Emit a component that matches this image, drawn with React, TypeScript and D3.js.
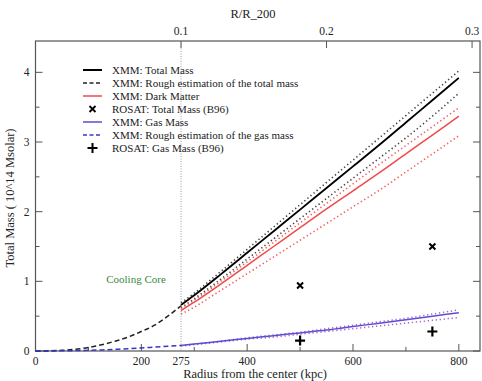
import { useEffect, useRef } from "react";
import * as d3 from "d3";

const width = 482;
const height = 381;
const margin = { top: 41, right: 2, bottom: 30, left: 35.5 };

// XMM profiles (kpc, 10^14 Msolar)
const radiusXmm = [275, 300, 350, 400, 450, 500, 550, 600, 650, 700, 750, 800];
const totalMass = [0.66, 0.8, 1.1, 1.41, 1.72, 2.03, 2.34, 2.65, 2.96, 3.28, 3.6, 3.92];
const totalHigh = [0.69, 0.83, 1.14, 1.46, 1.78, 2.1, 2.42, 2.74, 3.06, 3.38, 3.7, 4.02];
const totalLow = [0.62, 0.75, 1.03, 1.32, 1.61, 1.9, 2.19, 2.48, 2.77, 3.06, 3.37, 3.7];
const darkMatter = [0.58, 0.7, 0.96, 1.23, 1.5, 1.77, 2.04, 2.3, 2.56, 2.83, 3.1, 3.37];
const darkHigh = [0.61, 0.73, 1.0, 1.28, 1.56, 1.84, 2.12, 2.4, 2.68, 2.95, 3.22, 3.49];
const darkLow = [0.53, 0.63, 0.87, 1.11, 1.35, 1.59, 1.83, 2.07, 2.31, 2.57, 2.83, 3.09];
const gasMass = [0.08, 0.1, 0.14, 0.18, 0.22, 0.26, 0.3, 0.35, 0.4, 0.45, 0.5, 0.55];
const gasHigh = [0.08, 0.1, 0.14, 0.19, 0.23, 0.27, 0.32, 0.37, 0.42, 0.47, 0.53, 0.59];
const gasLow = [0.07, 0.09, 0.13, 0.17, 0.2, 0.24, 0.28, 0.32, 0.36, 0.4, 0.44, 0.48];

// rough estimation inside the cooling core
const radiusCore = [0, 25, 50, 75, 100, 125, 150, 175, 200, 225, 250, 275];
const roughTotal = [0, 0.002, 0.01, 0.025, 0.05, 0.09, 0.14, 0.2, 0.28, 0.37, 0.5, 0.65];
const roughGas = [0, 0.001, 0.003, 0.006, 0.01, 0.016, 0.024, 0.033, 0.044, 0.056, 0.068, 0.08];

// ROSAT (B96)
const rosatRadius = [500, 750];
const rosatTotal = [0.94, 1.5];
const rosatGas = [0.15, 0.28];

const xTickLabels = [0, 200, 275, 400, 600, 800];
const xMajor = [0, 200, 400, 600, 800];
const xMinor = [100, 300, 500, 700];
const yTickLabels = [0, 1, 2, 3, 4];
const yMinor = [0.5, 1.5, 2.5, 3.5];
const topTicks = [0.1, 0.2, 0.3];
const r200 = 2750;
const coolingRadius = 275;

const legendItems = [
  { label: "XMM: Total Mass", kind: "line", color: "#000", dash: null, w: 2 },
  { label: "XMM: Rough estimation of the total mass", kind: "line", color: "#222", dash: "4,2.5", w: 1.3 },
  { label: "XMM: Dark Matter", kind: "line", color: "#f04a4a", dash: null, w: 1.5 },
  { label: "ROSAT: Total Mass (B96)", kind: "x", color: "#000" },
  { label: "XMM: Gas Mass", kind: "line", color: "#5a4fd0", dash: null, w: 1.5 },
  { label: "XMM: Rough estimation of the gas mass", kind: "line", color: "#3a34c8", dash: "4,2.5", w: 1.3 },
  { label: "ROSAT: Gas Mass (B96)", kind: "plus", color: "#000" },
];

const font = "Liberation Serif, Times New Roman, DejaVu Serif, serif";

function App() {
  const node = useRef<HTMLDivElement>(null);

  useEffect(() => {
    const root = d3.select(node.current);
    root.selectAll("svg").remove();
    const svg = root
      .append("svg")
      .attr("width", width)
      .attr("height", height)
      .attr("font-family", font)
      .style("position", "absolute")
      .style("left", 0)
      .style("top", 0);

    const x = d3.scaleLinear().domain([0, 840]).range([margin.left, width - margin.right]);
    const y = d3.scaleLinear().domain([0, 4.45]).range([height - margin.bottom, margin.top]);
    const x0 = margin.left, x1 = width - margin.right;
    const y0 = height - margin.bottom, y1 = margin.top;
    const axisColor = "#555";

    const txt = (sel: any) => sel.attr("font-family", font).attr("fill", "#222");

    // frame
    svg.append("rect").attr("x", x0).attr("y", y1).attr("width", x1 - x0).attr("height", y0 - y1)
      .attr("fill", "none").attr("stroke", axisColor).attr("stroke-width", 1.2);

    // cooling core marker
    svg.append("line").attr("x1", x(coolingRadius)).attr("x2", x(coolingRadius)).attr("y1", y1).attr("y2", y0)
      .attr("stroke", "#888").attr("stroke-width", 0.8).attr("stroke-dasharray", "1,1.5");

    // bottom/top x ticks
    xMajor.forEach((v) => {
      svg.append("line").attr("x1", x(v)).attr("x2", x(v)).attr("y1", y0).attr("y2", y0 - 7).attr("stroke", axisColor);
    });
    xMinor.forEach((v) => {
      svg.append("line").attr("x1", x(v)).attr("x2", x(v)).attr("y1", y0).attr("y2", y0 - 4).attr("stroke", axisColor);
    });
    svg.selectAll(".xlab").data(xTickLabels).enter().append("text")
      .attr("x", (d) => x(d)).attr("y", y0 + 14).attr("text-anchor", "middle")
      .attr("font-size", 11.5).call(txt).text((d) => d);

    topTicks.forEach((v) => {
      const px = x(v * r200);
      svg.append("line").attr("x1", px).attr("x2", px).attr("y1", y1).attr("y2", y1 + 7).attr("stroke", axisColor);
      svg.append("text").attr("x", px).attr("y", y1 - 6).attr("text-anchor", "middle")
        .attr("font-size", 11.5).call(txt).text(v.toFixed(1));
    });

    // y ticks both sides
    yTickLabels.forEach((v) => {
      svg.append("line").attr("x1", x0).attr("x2", x0 + 7).attr("y1", y(v)).attr("y2", y(v)).attr("stroke", axisColor);
      svg.append("line").attr("x1", x1).attr("x2", x1 - 7).attr("y1", y(v)).attr("y2", y(v)).attr("stroke", axisColor);
      svg.append("text").attr("x", x0 - 6).attr("y", y(v) + 4).attr("text-anchor", "end")
        .attr("font-size", 11.5).call(txt).text(v);
    });
    yMinor.forEach((v) => {
      svg.append("line").attr("x1", x0).attr("x2", x0 + 4).attr("y1", y(v)).attr("y2", y(v)).attr("stroke", axisColor);
      svg.append("line").attr("x1", x1).attr("x2", x1 - 4).attr("y1", y(v)).attr("y2", y(v)).attr("stroke", axisColor);
    });

    // axis titles
    svg.append("text").attr("x", 255).attr("y", 378).attr("text-anchor", "middle")
      .attr("font-size", 12.5).call(txt).text("Radius from the center (kpc)");
    svg.append("text").attr("x", 253).attr("y", 18).attr("text-anchor", "middle")
      .attr("font-size", 12.5).call(txt).text("R/R_200");
    svg.append("text").attr("transform", `translate(14,${(y0 + y1) / 2 + 2}) rotate(-90)`)
      .attr("text-anchor", "middle").attr("font-size", 12.5).call(txt)
      .text("Total Mass ( 10^14 Msolar)");

    svg.append("text").attr("x", 136).attr("y", 283).attr("text-anchor", "middle")
      .attr("font-size", 11).attr("font-family", font).attr("fill", "#3c8a3c").text("Cooling Core");

    const line = (xs: number[]) => d3.line<number>().x((_, i) => x(xs[i])).y((d) => y(d)).curve(d3.curveMonotoneX);

    const series = [
      { xs: radiusXmm, ys: totalHigh, color: "#444", dash: "1.3,2.7", w: 1.6 },
      { xs: radiusXmm, ys: totalLow, color: "#444", dash: "1.3,2.7", w: 1.6 },
      { xs: radiusXmm, ys: darkHigh, color: "#f05a5a", dash: "1.3,2.7", w: 1.6 },
      { xs: radiusXmm, ys: darkLow, color: "#f05a5a", dash: "1.3,2.7", w: 1.6 },
      { xs: radiusXmm, ys: gasHigh, color: "#b060d0", dash: "1.3,2.7", w: 1.5 },
      { xs: radiusXmm, ys: gasLow, color: "#b060d0", dash: "1.3,2.7", w: 1.5 },
      { xs: radiusCore, ys: roughTotal, color: "#222", dash: "5,3", w: 1.5 },
      { xs: radiusCore, ys: roughGas, color: "#3a34c8", dash: "5,3", w: 1.5 },
      { xs: radiusXmm, ys: totalMass, color: "#000", dash: null, w: 1.8 },
      { xs: radiusXmm, ys: darkMatter, color: "#f04a4a", dash: null, w: 1.5 },
      { xs: radiusXmm, ys: gasMass, color: "#5a4fd0", dash: null, w: 1.5 },
    ];
    series.forEach((s) => {
      svg.append("path").attr("d", line(s.xs)(s.ys)).attr("fill", "none")
        .attr("stroke", s.color).attr("stroke-width", s.w)
        .attr("stroke-dasharray", s.dash);
    });

    const cross = (cx: number, cy: number, r: number) =>
      `M${cx - r},${cy - r}L${cx + r},${cy + r}M${cx - r},${cy + r}L${cx + r},${cy - r}`;
    const plus = (cx: number, cy: number, r: number) =>
      `M${cx - r},${cy}L${cx + r},${cy}M${cx},${cy - r}L${cx},${cy + r}`;

    rosatRadius.forEach((r, i) => {
      svg.append("path").attr("d", cross(x(r), y(rosatTotal[i]), 3)).attr("stroke", "#000").attr("stroke-width", 2);
      svg.append("path").attr("d", plus(x(r), y(rosatGas[i]), 5)).attr("stroke", "#000").attr("stroke-width", 2.2);
    });

    // legend
    const lg = svg.append("g").attr("transform", "translate(83,70)");
    legendItems.forEach((item, i) => {
      const gy = i * 13;
      if (item.kind === "line") {
        lg.append("line").attr("x1", 0).attr("x2", 19).attr("y1", gy).attr("y2", gy)
          .attr("stroke", item.color).attr("stroke-width", item.w).attr("stroke-dasharray", item.dash);
      } else if (item.kind === "x") {
        lg.append("path").attr("d", cross(9.5, gy, 3)).attr("stroke", item.color).attr("stroke-width", 1.8);
      } else {
        lg.append("path").attr("d", plus(9.5, gy, 5)).attr("stroke", item.color).attr("stroke-width", 2);
      }
      lg.append("text").attr("x", 29).attr("y", gy + 4).attr("font-size", 11).call(txt).text(item.label);
    });
  }, []);

  return <div ref={node} />;
}

export default App;
